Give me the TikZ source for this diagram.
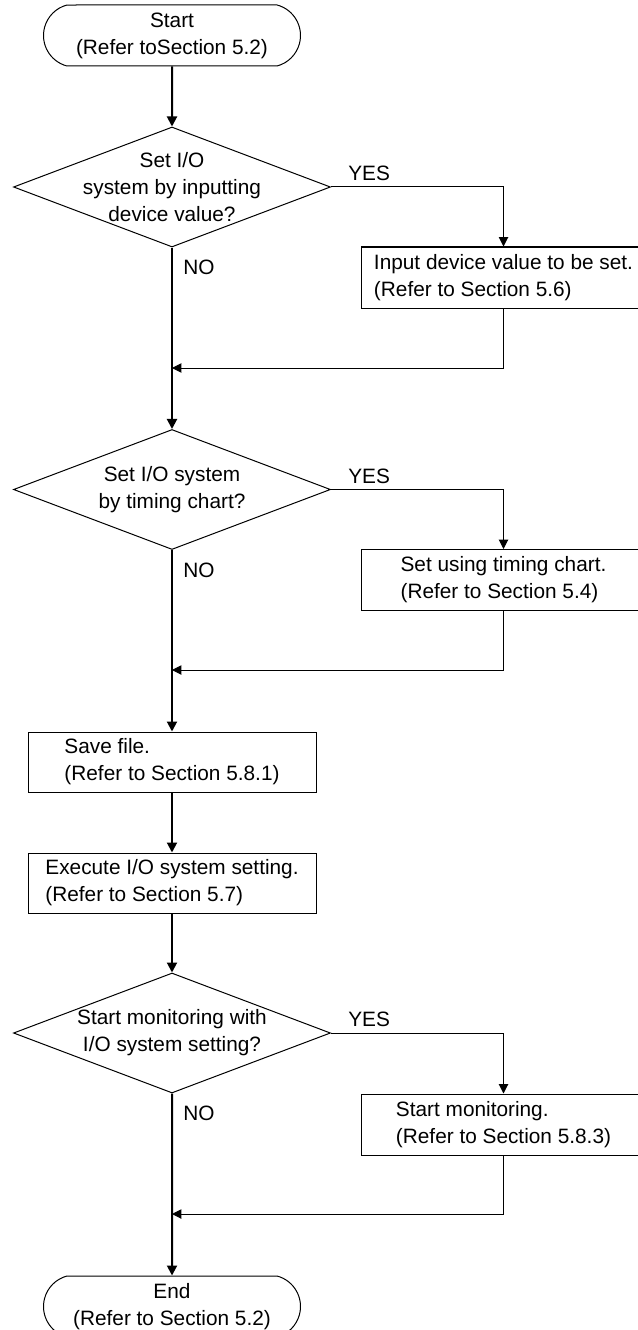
\documentclass[tikz,border=0pt]{standalone}
\usepackage{fontspec}
\setmainfont{Liberation Sans}
\usetikzlibrary{shapes.geometric,shapes.misc,arrows.meta}

\tikzset{
  txt/.style={font=\fontsize{15.6}{20.25}\selectfont, inner sep=0pt},
  flow/.style={txt, draw, line width=0.75pt},
  term/.style={flow, rounded rectangle, rounded rectangle arc length=150, minimum width=192.75pt, minimum height=45.75pt, align=center},
  proc/.style={flow, rectangle, minimum width=216pt, minimum height=45pt, align=left},
  sideproc/.style={proc, minimum width=213.75pt, minimum height=45.75pt},
  dec/.style={flow, diamond, minimum width=237.75pt, minimum height=90pt},
  dectxt/.style={txt, align=center},
  yeslab/.style={txt, anchor=south west, xshift=12.75pt, yshift=4.5pt},
  nolab/.style={txt, anchor=north west, xshift=8.25pt, yshift=-9.4pt},
  trunk/.style={line width=1.5pt, -{Triangle[width=7.5pt,length=7.5pt]}},
  branch/.style={line width=0.75pt, -{Triangle[width=7pt,length=7pt]}}
}

\begin{document}
\begin{tikzpicture}[x=0.75pt,y=-0.75pt]
\useasboundingbox (0,0) rectangle (637,1330);

% main column
\node[term] (start) at (172,35.5) {Start\\(Refer toSection 5.2)};
\node[dec] (d1) at (172,187) {};
\node[dectxt] (d1t) at (d1) {Set I/O\\system by inputting\\device value?};
\node[dec] (d2) at (172,489.5) {};
\node[dectxt] (d2t) at (d2) {Set I/O system\\by timing chart?};
\node[proc] (b3) at (172,762) {Save file.\\(Refer to Section 5.8.1)};
\node[proc] (b4) at (172,883) {Execute I/O system setting.\\(Refer to Section 5.7)};
\node[dec] (d3) at (172,1033) {};
\node[dectxt] (d3t) at (d3) {Start monitoring with\\I/O system setting?};
\node[term] (end) at (172,1306.5) {End\\(Refer to Section 5.2)};

% side boxes
\node[sideproc] (b1) at (503.5,277.5) {Input device value to be set.\\(Refer to Section 5.6)};
\node[sideproc] (b2) at (503.5,580) {Set using timing chart.\\(Refer to Section 5.4)};
\node[sideproc] (b5) at (503.5,1124.5) {Start monitoring.\\(Refer to Section 5.8.3)};

\coordinate (j1) at (172,368);
\coordinate (j2) at (172,670);
\coordinate (j3) at (172,1214);

% YES / NO
\node[yeslab] (y1) at (d1.east) {YES};
\node[yeslab] (y2) at (d2.east) {YES};
\node[yeslab] (y3) at (d3.east) {YES};
\node[nolab] (n1) at (d1.south) {NO};
\node[nolab] (n2) at (d2.south) {NO};
\node[nolab] (n3) at (d3.south) {NO};

% connectors
\draw[trunk] (start) -- (d1);
\draw[trunk] (d1) -- (d2);
\draw[trunk] (d2) -- (b3);
\draw[trunk] (b3) -- (b4);
\draw[trunk] (b4) -- (d3);
\draw[trunk] (d3) -- (end);
\draw[branch] (d1.east) -| (b1.north);
\draw[branch] (b1.south) |- (j1);
\draw[branch] (d2.east) -| (b2.north);
\draw[branch] (b2.south) |- (j2);
\draw[branch] (d3.east) -| (b5.north);
\draw[branch] (b5.south) |- (j3);
\end{tikzpicture}
\end{document}
